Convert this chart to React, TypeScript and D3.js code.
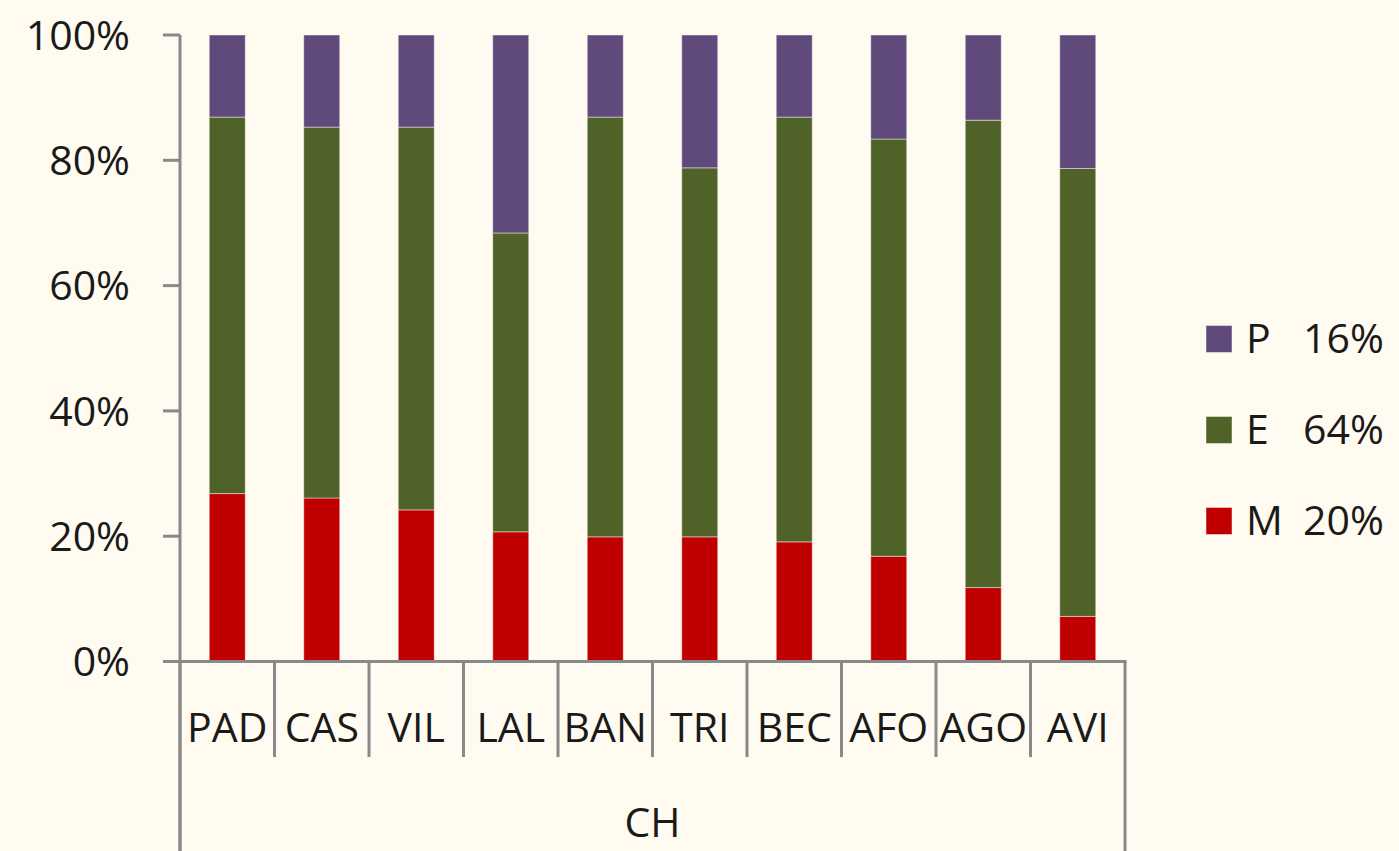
import React from "react";
import * as d3 from "d3";

const categories = ["PAD", "CAS", "VIL", "LAL", "BAN", "TRI", "BEC", "AFO", "AGO", "AVI"];
const seriesM = [26.8, 26.1, 24.2, 20.7, 19.9, 19.9, 19.1, 16.8, 11.8, 7.2];
const seriesE = [60.1, 59.2, 61.1, 47.7, 67.0, 58.9, 67.8, 66.6, 74.6, 71.5];
const seriesP = [13.1, 14.7, 14.7, 31.6, 13.1, 21.2, 13.1, 16.6, 13.6, 21.3];
const yTicks = [0, 20, 40, 60, 80, 100];
const legendItems = [
  { key: "P", label: "P", pct: "16%" },
  { key: "E", label: "E", pct: "64%" },
  { key: "M", label: "M", pct: "20%" },
];
const groupLabel = "CH";

const W = 1399;
const H = 851;
const colors: Record<string, string> = { M: "#C00000", E: "#4F6228", P: "#604A7B" };
const axisColor = "#898989";
const font = "'Open Sans', 'DejaVu Sans', sans-serif";

export default function App() {
  const left = 180;
  const right = 1125;
  const top = 35;
  const bottom = 661.5;

  const x = d3.scaleBand<string>().domain(categories).range([left, right]).paddingInner(0).paddingOuter(0);
  const y = d3.scaleLinear().domain([0, 100]).range([bottom, top]);
  const barW = 36;

  const rows = categories.map((c, i) => ({ cat: c, M: seriesM[i], E: seriesE[i], P: seriesP[i] }));
  const stack = d3.stack<any>().keys(["M", "E", "P"]);
  const stacked = stack(rows);

  const boundaries = categories.map((c) => x(c)!).concat([right]);

  return (
    <svg width={W} height={H} style={{ position: "absolute", left: 0, top: 0 }} fontFamily={font}>
      <rect x={0} y={0} width={W} height={H} fill="#FFFBF0" />
      {stacked.map((layer) => (
        <g key={layer.key} fill={colors[layer.key]}>
          {layer.map((d, i) => {
            const cx = x(categories[i])! + x.bandwidth() / 2;
            return (
              <rect
                key={i}
                x={cx - barW / 2}
                y={y(d[1])}
                width={barW}
                height={y(d[0]) - y(d[1])}
                stroke="#ffffff"
                strokeOpacity={0.45}
                strokeWidth={1}
              />
            );
          })}
        </g>
      ))}
      {/* y axis */}
      <line x1={left} x2={left} y1={top} y2={H} stroke={axisColor} strokeWidth={3} />
      {yTicks.map((t) => (
        <g key={t}>
          <line x1={163} x2={left} y1={y(t)} y2={y(t)} stroke={axisColor} strokeWidth={3} />
          <text x={130} y={y(t)} dy="0.36em" textAnchor="end" fontSize={41} fill="#1a1a1a">
            {t}%
          </text>
        </g>
      ))}
      {/* x axis */}
      <line x1={163} x2={right + 1.5} y1={bottom} y2={bottom} stroke={axisColor} strokeWidth={3} />
      {boundaries.map((bx, i) => {
        const outer = i === 0 || i === boundaries.length - 1;
        return (
          <line key={i} x1={bx} x2={bx} y1={bottom} y2={outer ? H : 757} stroke={axisColor} strokeWidth={3} />
        );
      })}
      {categories.map((c) => (
        <text key={c} x={x(c)! + x.bandwidth() / 2} y={742} textAnchor="middle" fontSize={41} fill="#1a1a1a">
          {c}
        </text>
      ))}
      <text x={(left + right) / 2} y={837} textAnchor="middle" fontSize={41} fill="#1a1a1a">
        {groupLabel}
      </text>
      {/* legend */}
      {legendItems.map((it, i) => {
        const cy = 339 + i * 91;
        return (
          <g key={it.key}>
            <rect x={1206} y={cy - 13.5} width={26} height={27} fill={colors[it.key]} stroke="#ffffff" strokeOpacity={0.45} strokeWidth={1} />
            <text x={1246} y={cy + 14} fontSize={41} fill="#1a1a1a">
              {it.label}
            </text>
            <text x={1303} y={cy + 14} fontSize={41} fill="#1a1a1a">
              {it.pct}
            </text>
          </g>
        );
      })}
    </svg>
  );
}
